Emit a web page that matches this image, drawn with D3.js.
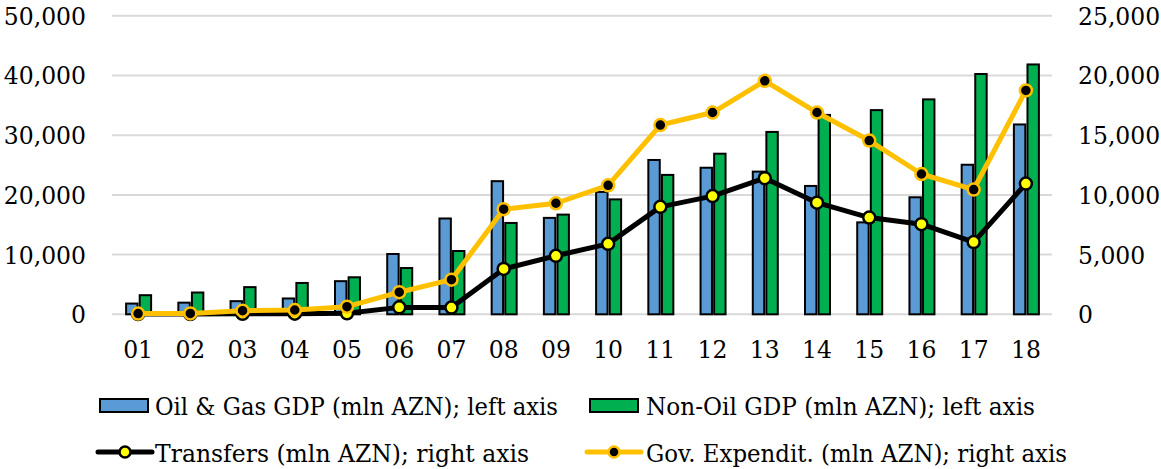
<!DOCTYPE html>
<html>
<head>
<meta charset="utf-8">
<script src="https://cdn.jsdelivr.net/npm/d3@7"></script>
<style>
  html, body { margin: 0; padding: 0; background: #fff; }
  svg { display: block; }
  text { font-family: "DejaVu Serif", "Liberation Serif", serif; fill: #000; }
</style>
</head>
<body>
<svg id="chart" width="1161" height="469"></svg>
<script>
// Years (2001–2018), shown as two-digit labels
const years = ["01","02","03","04","05","06","07","08","09","10","11","12","13","14","15","16","17","18"];

// GDP components, mln AZN (left axis)
const oilGasGDP = [1800, 1950, 2200, 2650, 5550, 10100, 16050, 22300, 16150, 20500, 25850, 24550, 23900, 21500, 15400, 19600, 25050, 31800];
const nonOilGDP = [3200, 3650, 4550, 5250, 6200, 7750, 10600, 15300, 16700, 19250, 23350, 26900, 30550, 33400, 34200, 36000, 40250, 41850];

// Fiscal series, mln AZN (right axis)
const transfers = [20, 20, 40, 50, 80, 580, 560, 3800, 4900, 5900, 9000, 9900, 11400, 9350, 8100, 7550, 6050, 10950];
const govExpend = [60, 70, 300, 360, 640, 1850, 2900, 8800, 9300, 10800, 15850, 16900, 19550, 16900, 14550, 11750, 10450, 18750];

// Axis ticks
const leftTicks = [0, 10000, 20000, 30000, 40000, 50000];
const rightTicks = [0, 5000, 10000, 15000, 20000, 25000];

// Legend entries
const legendLabels = [
  "Oil & Gas GDP (mln AZN); left axis",
  "Non-Oil GDP (mln AZN); left axis",
  "Transfers (mln AZN); right axis",
  "Gov. Expendit. (mln AZN); right axis"
];

const colors = { oil: "#5B9BD5", nonOil: "#00B050", transfers: "#000000", gov: "#FFC000", marker: "#FFFF00", grid: "#D9D9D9" };

const svg = d3.select("#chart");
const plot = { left: 112, right: 1052, top: 15.8, bottom: 314.3 };

const x = d3.scaleBand().domain(years).range([plot.left, plot.right]).padding(0);
const yL = d3.scaleLinear().domain([0, 50000]).range([plot.bottom, plot.top]);
const yR = d3.scaleLinear().domain([0, 25000]).range([plot.bottom, plot.top]);
const sub = d3.scaleBand().domain(["oil", "nonOil"]).range([-12, 13]).paddingInner(0.16);

// Gridlines
svg.append("g").selectAll("line").data(leftTicks).join("line")
  .attr("x1", plot.left).attr("x2", plot.right)
  .attr("y1", d => yL(d)).attr("y2", d => yL(d))
  .attr("stroke", colors.grid).attr("stroke-width", 2);

// Left axis labels
const leftAxis = svg.append("g").attr("transform", `translate(86,0)`)
  .call(d3.axisLeft(yL).tickValues(leftTicks).tickFormat(d3.format(",")).tickSize(0).tickPadding(0));
leftAxis.select(".domain").remove();
leftAxis.selectAll("text").attr("font-size", 23.5).attr("font-family", "DejaVu Serif").attr("dy", "0.36em").attr("fill", "#000");

// Right axis labels
const rightAxis = svg.append("g").attr("transform", `translate(1078,0)`)
  .call(d3.axisRight(yR).tickValues(rightTicks).tickFormat(d3.format(",")).tickSize(0).tickPadding(0));
rightAxis.select(".domain").remove();
rightAxis.selectAll("text").attr("font-size", 23.5).attr("font-family", "DejaVu Serif").attr("dy", "0.36em").attr("fill", "#000");

// Category labels
const xAxis = svg.append("g").attr("transform", `translate(0,${plot.bottom})`)
  .call(d3.axisBottom(x).tickSize(0).tickPadding(0));
xAxis.select(".domain").remove();
xAxis.selectAll("text").attr("font-size", 23.5).attr("font-family", "DejaVu Serif").attr("y", 44).attr("dy", 0).attr("fill", "#000");

// Bars
const barData = years.map((yr, i) => ({ yr, oil: oilGasGDP[i], nonOil: nonOilGDP[i] }));
const groups = svg.append("g").selectAll("g").data(barData).join("g")
  .attr("transform", d => `translate(${x(d.yr) + x.bandwidth() / 2},0)`);
groups.selectAll("rect").data(d => ["oil", "nonOil"].map(k => ({ k, v: d[k] }))).join("rect")
  .attr("x", d => sub(d.k))
  .attr("width", sub.bandwidth())
  .attr("y", d => yL(d.v))
  .attr("height", d => yL(0) - yL(d.v))
  .attr("fill", d => colors[d.k])
  .attr("stroke", "#000").attr("stroke-width", 2);

const cx = (d, i) => x(years[i]) + x.bandwidth() / 2;

// Transfers line
const lineR = d3.line().x((d, i) => cx(d, i)).y(d => yR(d));
svg.append("path").datum(transfers).attr("d", lineR)
  .attr("fill", "none").attr("stroke", colors.transfers).attr("stroke-width", 5).attr("stroke-linejoin", "round");
svg.append("g").selectAll("circle").data(transfers).join("circle")
  .attr("cx", cx).attr("cy", d => yR(d)).attr("r", 6)
  .attr("fill", colors.marker).attr("stroke", "#000").attr("stroke-width", 2.5);

// Government expenditure line
svg.append("path").datum(govExpend).attr("d", lineR)
  .attr("fill", "none").attr("stroke", colors.gov).attr("stroke-width", 5).attr("stroke-linejoin", "round");
svg.append("g").selectAll("circle").data(govExpend).join("circle")
  .attr("cx", cx).attr("cy", d => yR(d)).attr("r", 6)
  .attr("fill", "#000").attr("stroke", colors.gov).attr("stroke-width", 2.5);

// Legend
const legend = svg.append("g");
const legendItems = [
  { label: legendLabels[0], type: "bar", color: colors.oil, sx: 99, tx: 155, tw: 403, row: 0 },
  { label: legendLabels[1], type: "bar", color: colors.nonOil, sx: 589, tx: 646, tw: 389, row: 0 },
  { label: legendLabels[2], type: "line", color: colors.transfers, fill: colors.marker, sx: 98, tx: 155, tw: 374, row: 1 },
  { label: legendLabels[3], type: "line", color: colors.gov, fill: "#000", sx: 587, tx: 646, tw: 421, row: 1 }
];
const rowY = [405.5, 452];
const rowBase = [415, 462];
legendItems.forEach(it => {
  const cy = rowY[it.row];
  if (it.type === "bar") {
    legend.append("rect").attr("x", it.sx + 1).attr("y", cy - 6.5).attr("width", 48).attr("height", 13)
      .attr("fill", it.color).attr("stroke", "#000").attr("stroke-width", 2);
  } else {
    legend.append("line").attr("x1", it.sx).attr("x2", it.sx + 54).attr("y1", cy).attr("y2", cy)
      .attr("stroke", it.color).attr("stroke-width", 5).attr("stroke-linecap", "round");
    legend.append("circle").attr("cx", it.sx + 27).attr("cy", cy).attr("r", 5.5)
      .attr("fill", it.fill).attr("stroke", it.color).attr("stroke-width", 2.5);
  }
  legend.append("text").attr("x", it.tx).attr("y", rowBase[it.row])
    .attr("font-size", 24.5).attr("textLength", it.tw).attr("lengthAdjust", "spacingAndGlyphs")
    .text(it.label);
});
</script>
</body>
</html>
